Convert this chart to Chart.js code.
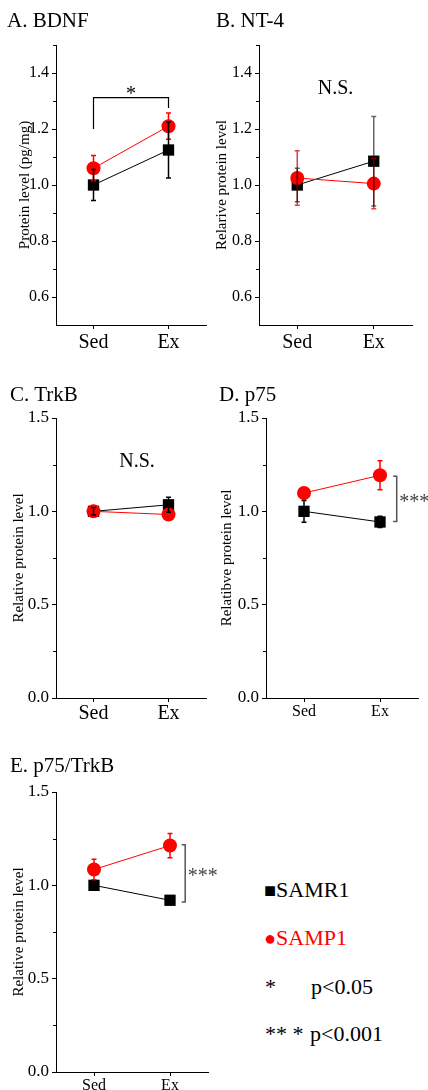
<!DOCTYPE html>
<html>
<head>
<meta charset="utf-8">
<script src="https://cdn.jsdelivr.net/npm/chart.js@4.4.1/dist/chart.umd.min.js"></script>
<style>
body { margin: 0; background: #fff; }
#page { position: relative; width: 428px; height: 1090px; overflow: hidden; font-family: "Liberation Serif", serif; color: #000; }
canvas { position: absolute; }
.txt { position: absolute; white-space: nowrap; line-height: 1; }
.sym { font-size: 20px; }
</style>
</head>
<body>
<div id="page">
  <canvas id="cA" width="214" height="360" style="left:0;top:0"></canvas>
  <canvas id="cB" width="228" height="360" style="left:200px;top:0"></canvas>
  <canvas id="cC" width="214" height="350" style="left:0;top:370px"></canvas>
  <canvas id="cD" width="228" height="350" style="left:200px;top:370px"></canvas>
  <canvas id="cE" width="240" height="350" style="left:0;top:740px"></canvas>

  <div class="txt" style="left:7px;top:10px;font-size:21px">A. BDNF</div>
  <div class="txt" style="left:216px;top:10px;font-size:21px">B. NT-4</div>
  <div class="txt" style="left:10px;top:384px;font-size:21px">C. TrkB</div>
  <div class="txt" style="left:219px;top:384px;font-size:21px">D. p75</div>
  <div class="txt" style="left:10px;top:755px;font-size:21px">E. p75/TrkB</div>

  <div class="txt" style="left:264px;top:879px;font-size:22px"><span class="sym">■</span>SAMR1</div>
  <div class="txt" style="left:264px;top:927px;font-size:22px;color:#ff0000"><span class="sym">●</span>SAMP1</div>
  <div class="txt" style="left:265px;top:976px;font-size:22px">*</div>
  <div class="txt" style="left:311px;top:976px;font-size:22px">p&lt;0.05</div>
  <div class="txt" style="left:265px;top:1023px;font-size:22px">** *</div>
  <div class="txt" style="left:310px;top:1023px;font-size:22px">p&lt;0.001</div>
</div>

<script>
// groups on the x axis
var groups = ['Sed', 'Ex'];

// A. BDNF (pg/mg)
var bdnfR1 = [1.00, 1.125];
var bdnfR1Err = [0.055, 0.10];
var bdnfP1 = [1.06, 1.21];
var bdnfP1Err = [0.045, 0.047];

// B. NT-4
var nt4R1 = [1.00, 1.085];
var nt4R1Err = [0.06, 0.16];
var nt4P1 = [1.025, 1.005];
var nt4P1Err = [0.097, 0.09];

// C. TrkB
var trkbR1 = [1.00, 1.035];
var trkbR1Err = [0.02, 0.04];
var trkbP1 = [1.00, 0.983];
var trkbP1Err = [0.02, 0.02];

// D. p75
var p75R1 = [1.00, 0.943];
var p75R1Err = [0.058, 0.03];
var p75P1 = [1.098, 1.193];
var p75P1Err = [0.02, 0.078];

// E. p75/TrkB
var ratioR1 = [1.00, 0.92];
var ratioR1Err = [0.02, 0.02];
var ratioP1 = [1.085, 1.213];
var ratioP1Err = [0.055, 0.065];

// tick labels
var ticksTop = [0.6, 0.8, 1.0, 1.2, 1.4];
var minorTop = [0.7, 0.9, 1.1, 1.3, 1.5];
var ticksLow = [0.0, 0.5, 1.0, 1.5];
var minorLow = [0.25, 0.75, 1.25];

var FONT = 'Liberation Serif';
var RED = '#ff0000';

// significance marks, in data units
var notes = {
    cA: [{ kind: 'top', x0: 0, x1: 1, yLeft: 1.2, yRight: 1.275, yTop: 1.312, text: '*', ty: 1.303 }],
    cB: [{ kind: 'text', x: 0.5, y: 1.324, text: 'N.S.' }],
    cC: [{ kind: 'text', x: 0.58, y: 1.24, text: 'N.S.' }],
    cD: [{ kind: 'side', x: 1.22, y0: 0.946, y1: 1.188, text: '***', ty: 1.019 }],
    cE: [{ kind: 'side', x: 1.2, y0: 0.911, y1: 1.218, text: '***', ty: 1.018 }]
};

//Barras de erro desenhadas por cima dos pontos
var errorBars = {
    id: 'errorBars',
    afterDatasetsDraw: function(chart) {
        var ctx = chart.ctx;
        var y = chart.scales.y;
        ctx.save();
        chart.data.datasets.forEach(function(ds, i) {
            var meta = chart.getDatasetMeta(i);
            ctx.strokeStyle = ds.errColor;
            ctx.lineWidth = 1.5;
            meta.data.forEach(function(pt, j) {
                var hi = y.getPixelForValue(ds.data[j] + ds.errors[j]);
                var lo = y.getPixelForValue(ds.data[j] - ds.errors[j]);
                ctx.beginPath();
                ctx.moveTo(pt.x, lo); ctx.lineTo(pt.x, hi);
                ctx.moveTo(pt.x - 2.5, hi); ctx.lineTo(pt.x + 2.5, hi);
                ctx.moveTo(pt.x - 2.5, lo); ctx.lineTo(pt.x + 2.5, lo);
                ctx.stroke();
            });
        });
        ctx.restore();
    }
};

var minorTicks = {
    id: 'minorTicks',
    afterDraw: function(chart) {
        var ctx = chart.ctx;
        var y = chart.scales.y;
        var left = chart.chartArea.left;
        ctx.save();
        ctx.strokeStyle = '#000';
        ctx.lineWidth = 1;
        (chart.minorList || []).forEach(function(v) {
            var py = Math.round(y.getPixelForValue(v)) + 0.5;
            ctx.beginPath();
            ctx.moveTo(left - 3, py); ctx.lineTo(left, py);
            ctx.stroke();
        });
        ctx.restore();
    }
};

var marks = {
    id: 'marks',
    afterDraw: function(chart) {
        var ctx = chart.ctx;
        var x = chart.scales.x, y = chart.scales.y;
        ctx.save();
        ctx.font = '20px "' + FONT + '"';
        (notes[chart.canvas.id] || []).forEach(function(m) {
            if (m.kind == 'text') {
                ctx.fillStyle = '#000';
                ctx.textAlign = 'center';
                ctx.textBaseline = 'alphabetic';
                ctx.fillText(m.text, x.getPixelForValue(m.x), y.getPixelForValue(m.y));
            } else if (m.kind == 'top') {
                var xa = x.getPixelForValue(m.x0), xb = x.getPixelForValue(m.x1);
                var yt = y.getPixelForValue(m.yTop);
                ctx.strokeStyle = '#000';
                ctx.lineWidth = 1.2;
                ctx.beginPath();
                ctx.moveTo(xa, y.getPixelForValue(m.yLeft));
                ctx.lineTo(xa, yt); ctx.lineTo(xb, yt);
                ctx.lineTo(xb, y.getPixelForValue(m.yRight));
                ctx.stroke();
                ctx.fillStyle = '#000';
                ctx.textAlign = 'center';
                ctx.fillText(m.text, (xa + xb) / 2, y.getPixelForValue(m.ty));
            } else {
                var px = x.getPixelForValue(m.x);
                var p0 = y.getPixelForValue(m.y0), p1 = y.getPixelForValue(m.y1);
                ctx.strokeStyle = '#555';
                ctx.lineWidth = 1.5;
                ctx.beginPath();
                ctx.moveTo(px - 3.5, p1); ctx.lineTo(px, p1);
                ctx.lineTo(px, p0); ctx.lineTo(px - 3.5, p0);
                ctx.stroke();
                ctx.fillStyle = '#444';
                ctx.textAlign = 'left';
                ctx.fillText(m.text, px + 2.5, y.getPixelForValue(m.ty));
            }
        });
        ctx.restore();
    }
};

function makePanel(id, box, p) {
    var chart = new Chart(document.getElementById(id), {
        type: 'line',
        data: {
            labels: groups,
            datasets: [{
                label: 'SAMP1',
                data: p.p1,
                errors: p.p1Err,
                errColor: p.errP1 || RED,
                borderColor: RED,
                backgroundColor: RED,
                borderWidth: 1,
                pointStyle: 'circle',
                pointRadius: 7,
                pointBorderWidth: 0,
                order: 0
            }, {
                label: 'SAMR1',
                data: p.r1,
                errors: p.r1Err,
                errColor: p.errR1 || '#000',
                borderColor: '#000',
                backgroundColor: '#000',
                borderWidth: 1,
                pointStyle: 'rect',
                pointRadius: 8,
                pointBorderWidth: 0,
                order: 1
            }]
        },
        options: {
            responsive: false,
            animation: false,
            events: [],
            layout: { padding: { top: box.top, right: box.w - box.right, bottom: 0, left: 0 } },
            plugins: { legend: { display: false }, tooltip: { enabled: false } },
            scales: {
                x: {
                    offset: true,
                    grid: { offset: false, drawOnChartArea: false, tickLength: 4, color: '#000' },
                    border: { color: '#000', width: 1 },
                    ticks: { color: '#000', padding: p.xPad, font: { family: FONT, size: p.xFont } },
                    afterFit: function(s) { s.height = box.h - box.bottom; }
                },
                y: {
                    min: p.min,
                    max: p.max,
                    afterBuildTicks: function(s) {
                        s.ticks = p.ticks.map(function(v) { return { value: v }; });
                    },
                    grid: { drawOnChartArea: false, tickLength: 4, color: '#000' },
                    border: { color: '#000', width: 1 },
                    ticks: {
                        color: '#000',
                        padding: 3,
                        font: { family: FONT, size: p.yFont },
                        callback: function(v) { return Number(v).toFixed(1); }
                    },
                    title: {
                        display: true,
                        text: p.yTitle,
                        color: '#000',
                        font: { family: FONT, size: 15 },
                        padding: { top: p.titlePad, bottom: 0 }
                    },
                    afterFit: function(s) { s.width = box.left; }
                }
            }
        },
        plugins: [errorBars, minorTicks, marks]
    });
    chart.minorList = p.minor;
    chart.draw();
    return chart;
}

makePanel('cA', { w: 214, h: 360, left: 56, right: 208, top: 45, bottom: 325 }, {
    r1: bdnfR1, r1Err: bdnfR1Err, p1: bdnfP1, p1Err: bdnfP1Err,
    min: 0.5, max: 1.5, ticks: ticksTop, minor: minorTop,
    yTitle: 'Protein level (pg/mg)', titlePad: 16, yFont: 16, xFont: 20, xPad: 2
});

makePanel('cB', { w: 228, h: 360, left: 59, right: 212, top: 45, bottom: 325 }, {
    r1: nt4R1, r1Err: nt4R1Err, p1: nt4P1, p1Err: nt4P1Err,
    errR1: 'rgba(0,0,0,0.6)', errP1: 'rgba(215,0,0,0.75)',
    min: 0.5, max: 1.5, ticks: ticksTop, minor: minorTop,
    yTitle: 'Relarive protein level', titlePad: 13, yFont: 16, xFont: 20, xPad: 2
});

makePanel('cC', { w: 214, h: 350, left: 56, right: 206, top: 48, bottom: 328 }, {
    r1: trkbR1, r1Err: trkbR1Err, p1: trkbP1, p1Err: trkbP1Err,
    min: 0, max: 1.5, ticks: ticksLow, minor: minorLow,
    yTitle: 'Relative protein level', titlePad: 10, yFont: 17, xFont: 20, xPad: 0
});

makePanel('cD', { w: 228, h: 350, left: 66, right: 218, top: 48, bottom: 328 }, {
    r1: p75R1, r1Err: p75R1Err, p1: p75P1, p1Err: p75P1Err,
    min: 0, max: 1.5, ticks: ticksLow, minor: minorLow,
    yTitle: 'Relatibve protein level', titlePad: 18, yFont: 17, xFont: 16, xPad: 0
});

makePanel('cE', { w: 240, h: 350, left: 56, right: 208, top: 52, bottom: 332 }, {
    r1: ratioR1, r1Err: ratioR1Err, p1: ratioP1, p1Err: ratioP1Err,
    min: 0, max: 1.5, ticks: ticksLow, minor: minorLow,
    yTitle: 'Relative protein level', titlePad: 10, yFont: 17, xFont: 16, xPad: 0
});
</script>
</body>
</html>
